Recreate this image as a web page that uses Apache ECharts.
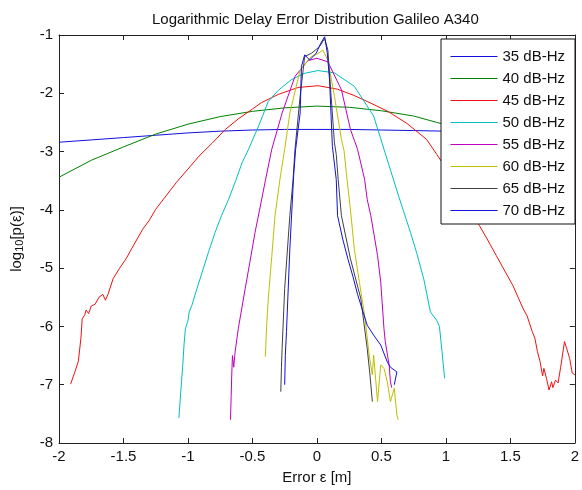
<!DOCTYPE html>
<html lang="en">
<head>
<meta charset="UTF-8">
<title>Logarithmic Delay Error Distribution</title>
<script src="https://cdn.jsdelivr.net/npm/echarts@6/dist/echarts.min.js"></script>
<style>
  html, body { margin: 0; padding: 0; background: #fff; }
  #main { width: 582px; height: 490px; }
</style>
</head>
<body>
<div id="main"></div>
<script type="text/javascript">
// legend names, colours follow the old matlab line order
var names = ['35 dB-Hz', '40 dB-Hz', '45 dB-Hz', '50 dB-Hz', '55 dB-Hz', '60 dB-Hz', '65 dB-Hz', '70 dB-Hz'];
var colors = ['#1010e0', '#008000', '#f01010', '#00bfbf', '#bf00bf', '#bfbf00', '#404040', '#1010e0'];

// [error in m, log10 p]
var db35 = [[-2, -2.84], [-1.75, -2.80], [-1.5, -2.76], [-1.25, -2.72], [-1, -2.68], [-0.75, -2.65],
  [-0.5, -2.63], [-0.25, -2.62], [0, -2.62], [0.25, -2.62], [0.5, -2.63], [0.75, -2.64], [1, -2.65],
  [1.5, -2.68], [2, -2.72]];

var db40 = [[-2, -3.44], [-1.75, -3.15], [-1.5, -2.92], [-1.25, -2.70], [-1, -2.53], [-0.75, -2.40],
  [-0.5, -2.31], [-0.25, -2.25], [0, -2.22], [0.25, -2.24], [0.5, -2.30], [0.75, -2.39], [0.93, -2.50],
  [1.25, -2.68], [1.5, -2.90], [1.75, -3.14], [2, -3.42]];

var db45 = [[-1.91, -6.99], [-1.88, -6.80], [-1.85, -6.60], [-1.83, -6.20], [-1.82, -5.87], [-1.80, -5.80],
  [-1.79, -5.72], [-1.77, -5.78], [-1.75, -5.65], [-1.72, -5.62], [-1.69, -5.50], [-1.66, -5.45],
  [-1.64, -5.55], [-1.62, -5.45], [-1.58, -5.18], [-1.53, -5.00], [-1.48, -4.84], [-1.42, -4.60],
  [-1.35, -4.33], [-1.30, -4.18], [-1.25, -3.99], [-1.17, -3.76], [-1.09, -3.53], [-1.00, -3.30],
  [-0.915, -3.08], [-0.81, -2.85], [-0.71, -2.62], [-0.61, -2.44], [-0.50, -2.27], [-0.43, -2.16],
  [-0.30, -2.02], [-0.146, -1.90], [0.01, -1.87], [0.16, -1.93], [0.28, -2.03], [0.39, -2.14],
  [0.55, -2.31], [0.70, -2.52], [0.85, -2.79], [0.93, -3.05], [1.05, -3.45], [1.15, -3.85],
  [1.26, -4.27], [1.32, -4.50], [1.39, -4.78], [1.45, -5.02], [1.52, -5.30], [1.56, -5.50],
  [1.60, -5.70], [1.63, -5.82], [1.67, -6.09], [1.69, -6.20], [1.71, -6.43], [1.73, -6.60],
  [1.75, -6.85], [1.76, -6.72], [1.78, -6.89], [1.80, -7.09], [1.82, -6.95], [1.83, -7.05],
  [1.85, -6.92], [1.87, -6.97], [1.89, -6.70], [1.92, -6.26], [1.94, -6.40], [1.96, -6.55],
  [1.98, -6.80], [2.0, -6.83]];

var db50 = [[-1.07, -7.57], [-1.06, -7.25], [-1.05, -6.95], [-1.04, -6.66], [-1.03, -6.30], [-1.02, -6.04],
  [-1.00, -5.90], [-0.99, -5.75], [-0.97, -5.64], [-0.93, -5.35], [-0.89, -5.07], [-0.84, -4.72],
  [-0.79, -4.39], [-0.74, -4.10], [-0.685, -3.82], [-0.63, -3.50], [-0.58, -3.19], [-0.53, -2.96],
  [-0.45, -2.55], [-0.377, -2.14], [-0.30, -1.95], [-0.2, -1.77], [-0.1, -1.66], [0.008, -1.61],
  [0.136, -1.65], [0.29, -1.88], [0.44, -2.39], [0.52, -2.96], [0.636, -3.78], [0.726, -4.39],
  [0.775, -4.75], [0.83, -5.20], [0.88, -5.75], [0.93, -5.90], [0.95, -6.00], [0.97, -6.43],
  [0.99, -6.89]];

var db55 = [[-0.67, -7.60], [-0.665, -7.20], [-0.66, -6.80], [-0.655, -6.50], [-0.645, -6.70],
  [-0.635, -6.45], [-0.61, -6.04], [-0.556, -5.35], [-0.52, -4.90], [-0.48, -4.39], [-0.44, -3.95],
  [-0.40, -3.50], [-0.35, -2.96], [-0.27, -2.34], [-0.17, -1.71], [-0.07, -1.44], [0.0, -1.40],
  [0.085, -1.46], [0.19, -1.94], [0.26, -2.62], [0.315, -2.96], [0.37, -3.48], [0.39, -3.82],
  [0.418, -4.10], [0.47, -4.78], [0.495, -5.24], [0.52, -6.04], [0.53, -6.26], [0.56, -6.66],
  [0.57, -6.95], [0.58, -7.05]];

var db60 = [[-0.40, -6.52], [-0.39, -6.00], [-0.377, -5.52], [-0.35, -4.80], [-0.325, -4.10],
  [-0.287, -3.48], [-0.25, -2.96], [-0.21, -2.34], [-0.13, -1.60], [-0.044, -1.37], [0.0, -1.33],
  [0.046, -1.26], [0.085, -1.43], [0.136, -2.05], [0.19, -2.79], [0.21, -2.98], [0.23, -3.40],
  [0.26, -4.00], [0.29, -4.67], [0.33, -5.25], [0.37, -5.81], [0.405, -6.49], [0.43, -6.83],
  [0.44, -6.49], [0.47, -7.29], [0.495, -6.66], [0.52, -6.72], [0.546, -6.95], [0.57, -7.29],
  [0.60, -7.06], [0.62, -7.52], [0.63, -7.60]];

var db65 = [[-0.28, -7.12], [-0.275, -6.70], [-0.27, -6.38], [-0.25, -5.35], [-0.21, -4.10],
  [-0.185, -3.48], [-0.17, -2.96], [-0.13, -2.05], [-0.095, -1.37], [-0.04, -1.31], [0.02, -1.20],
  [0.06, -1.06], [0.085, -1.26], [0.11, -2.05], [0.136, -2.85], [0.15, -3.05], [0.165, -3.48],
  [0.19, -4.10], [0.26, -4.84], [0.34, -5.52], [0.39, -6.38], [0.41, -6.80], [0.43, -7.29]];

var db70 = [[-0.25, -7.00], [-0.245, -6.50], [-0.236, -6.09], [-0.21, -4.67], [-0.18, -3.40],
  [-0.165, -2.96], [-0.13, -2.34], [-0.12, -1.54], [-0.095, -1.34], [-0.056, -1.43], [-0.005, -1.31],
  [0.03, -1.14], [0.06, -1.03], [0.08, -1.30], [0.098, -1.77], [0.12, -2.91], [0.15, -3.48],
  [0.16, -4.10], [0.20, -4.50], [0.24, -4.84], [0.28, -5.15], [0.315, -5.45], [0.39, -5.98],
  [0.44, -6.15], [0.495, -6.32], [0.546, -6.61], [0.57, -6.70], [0.62, -6.78], [0.60, -7.00]];

var curves = [db35, db40, db45, db50, db55, db60, db65, db70];

var xTicks = { min: -2, max: 2, interval: 0.5 };
var yTicks = { min: -8, max: -1, interval: 1 };

var myChart = echarts.init(document.getElementById('main'));

var font = 'Liberation Sans';
var axisCol = '#222';

function frameAxis(pos, t, labels) {
  return {
    type: 'value',
    position: pos,
    min: t.min, max: t.max, interval: t.interval,
    splitLine: { show: false },
    axisLine: { show: true, onZero: false, lineStyle: { color: axisCol, width: 1 } },
    axisTick: { show: true, inside: true, length: 5, lineStyle: { color: axisCol } },
    axisLabel: { show: labels, color: '#111', fontFamily: font, fontSize: 15, margin: 6 }
  };
}

var xBottom = frameAxis('bottom', xTicks, true);
xBottom.name = 'Error ε [m]';
xBottom.nameLocation = 'middle';
xBottom.nameGap = 27;
xBottom.nameTextStyle = { color: '#111', fontFamily: font, fontSize: 15 };
xBottom.axisLabel.showMinLabel = true;
xBottom.axisLabel.showMaxLabel = true;

var yLeft = frameAxis('left', yTicks, true);
yLeft.name = 'log{sub|10}[p(ε)]';
yLeft.nameLocation = 'middle';
yLeft.nameRotate = 90;
yLeft.nameGap = 34;
yLeft.nameTextStyle = {
  color: '#111', fontFamily: font, fontSize: 15,
  rich: { sub: { fontFamily: font, fontSize: 11, color: '#111', verticalAlign: 'bottom', padding: [6, 0, 0, 0] } }
};

var option = {
  backgroundColor: '#fff',
  animation: false,
  color: colors,
  title: {
    text: 'Logarithmic Delay Error Distribution Galileo A340',
    left: 147,
    top: 7,
    textStyle: { color: '#111', fontFamily: font, fontSize: 15, fontWeight: 'normal' }
  },
  legend: {
    orient: 'vertical',
    left: 441,
    top: 39,
    padding: [10, 10, 6, 9],
    itemGap: 7,
    itemWidth: 47,
    itemHeight: 14,
    backgroundColor: '#fff',
    borderColor: '#111',
    borderWidth: 1,
    borderRadius: 0,
    textStyle: { color: '#111', fontFamily: font, fontSize: 15, lineHeight: 15 },
    data: names.map(function (n, i) {
      return {
        name: n,
        itemStyle: { opacity: 0 },
        lineStyle: { color: colors[i], width: 1, opacity: 1 }
      };
    })
  },
  grid: { left: 59, right: 3, top: 35, bottom: 45, containLabel: false },
  xAxis: [xBottom, frameAxis('top', xTicks, false)],
  yAxis: [yLeft, frameAxis('right', yTicks, false)],
  series: names.map(function (n, i) {
    return {
      name: n,
      type: 'line',
      data: curves[i],
      showSymbol: false,
      symbol: 'none',
      smooth: false,
      clip: true,
      lineStyle: { width: 1, color: colors[i] },
      itemStyle: { color: colors[i] }
    };
  })
};

myChart.setOption(option);
</script>
</body>
</html>
